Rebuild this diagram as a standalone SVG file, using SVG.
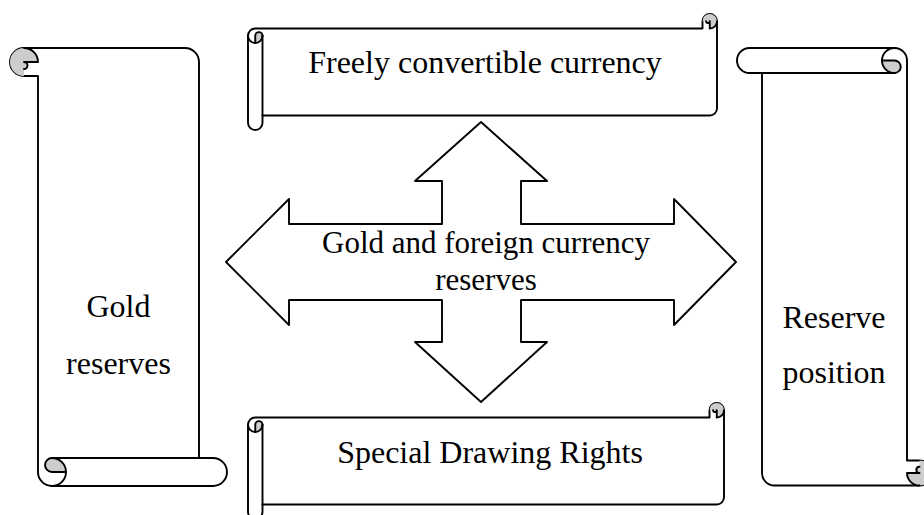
<svg xmlns="http://www.w3.org/2000/svg" width="924" height="515" viewBox="0 0 924 515">
  <style>
    .outline { fill: #ffffff; stroke: #000000; stroke-width: 1.9; stroke-linejoin: round; }
    .line { fill: none; stroke: #000000; stroke-width: 1.9; stroke-linejoin: round; stroke-linecap: round; }
    .curl { fill: #cdcdcd; stroke: none; }
    .label { font-family: "Liberation Serif", "Times New Roman", serif; font-size: 32px; fill: #000000; text-anchor: middle; }
  </style>
  <rect width="924" height="515" fill="#ffffff"/>

  <!-- Left vertical scroll (rotated half a turn) -->
  <g id="node-gold-reserves">
    <g transform="translate(227 486) rotate(180)">
      <path class="outline" d="M14,0 L175,0 A14,14 0 0 1 189,14 L189,410 L203,410 A14,14 0 0 1 217,424 A14,14 0 0 1 203,438 L42,438 A14,14 0 0 1 28,424 L28,28 L14,28 A14,14 0 0 1 14,0 Z"/>
      <path class="curl" d="M161,14 A14,14 0 0 0 175,28 A7,7 0 0 0 175,14 Z"/>
      <path class="curl" d="M189,424 A14,14 0 1 0 203,410 L203,424 Z"/>
      <path class="curl" d="M203,424 A3.5,3.5 0 0 1 203,417 Z"/>
      <path class="line" d="M28,28 L175,28"/>
      <path class="line" d="M175,0 A14,14 0 0 0 161,14 A14,14 0 0 0 175,28"/>
      <path class="line" d="M161,14 L175,14 A7,7 0 0 1 175,28"/>
      <path class="line" d="M203,438 A14,14 0 0 1 189,424 L203,424 A3.5,3.5 0 0 1 203,417"/>
    </g>
    <text class="label" x="118.5" y="317">Gold</text>
    <text class="label" x="118.5" y="374">reserves</text>
  </g>

  <!-- Right vertical scroll -->
  <g id="node-reserve-position">
    <g transform="translate(737 48)">
      <path class="outline" d="M12.5,0 L157.5,0 A12.5,12.5 0 0 1 170,12.5 L170,412.5 L182.5,412.5 A12.5,12.5 0 0 1 195,425 A12.5,12.5 0 0 1 182.5,437.5 L37.5,437.5 A12.5,12.5 0 0 1 25,425 L25,25 L12.5,25 A12.5,12.5 0 0 1 12.5,0 Z"/>
      <path class="curl" d="M145,12.5 A12.5,12.5 0 0 0 157.5,25 A6.25,6.25 0 0 0 157.5,12.5 Z"/>
      <path class="curl" d="M170,425 A12.5,12.5 0 1 0 182.5,412.5 L182.5,425 Z"/>
      <path class="curl" d="M182.5,425 A3.125,3.125 0 0 1 182.5,418.75 Z"/>
      <path class="line" d="M25,25 L157.5,25"/>
      <path class="line" d="M157.5,0 A12.5,12.5 0 0 0 145,12.5 A12.5,12.5 0 0 0 157.5,25"/>
      <path class="line" d="M145,12.5 L157.5,12.5 A6.25,6.25 0 0 1 157.5,25"/>
      <path class="line" d="M182.5,437.5 A12.5,12.5 0 0 1 170,425 L182.5,425 A3.125,3.125 0 0 1 182.5,418.75"/>
    </g>
    <text class="label" x="834" y="328">Reserve</text>
    <text class="label" x="834" y="383">position</text>
  </g>

  <!-- Top horizontal scroll -->
  <g id="node-freely-convertible">
    <g transform="translate(248 130) rotate(-90)">
      <path class="outline" d="M7.25,0 L94.25,0 A7.25,7.25 0 0 1 101.5,7.25 L101.5,454.5 L108.75,454.5 A7.25,7.25 0 0 1 116,461.75 A7.25,7.25 0 0 1 108.75,469 L21.75,469 A7.25,7.25 0 0 1 14.5,461.75 L14.5,14.5 L7.25,14.5 A7.25,7.25 0 0 1 7.25,0 Z"/>
      <path class="curl" d="M87,7.25 A7.25,7.25 0 0 0 94.25,14.5 A3.625,3.625 0 0 0 94.25,7.25 Z"/>
      <path class="curl" d="M101.5,461.75 A7.25,7.25 0 1 0 108.75,454.5 L108.75,461.75 Z"/>
      <path class="curl" d="M108.75,461.75 A1.8125,1.8125 0 0 1 108.75,458.125 Z"/>
      <path class="line" d="M14.5,14.5 L94.25,14.5"/>
      <path class="line" d="M94.25,0 A7.25,7.25 0 0 0 87,7.25 A7.25,7.25 0 0 0 94.25,14.5"/>
      <path class="line" d="M87,7.25 L94.25,7.25 A3.625,3.625 0 0 1 94.25,14.5"/>
      <path class="line" d="M108.75,469 A7.25,7.25 0 0 1 101.5,461.75 L108.75,461.75 A1.8125,1.8125 0 0 1 108.75,458.125"/>
    </g>
    <text class="label" x="485" y="73">Freely convertible currency</text>
  </g>

  <!-- Bottom horizontal scroll -->
  <g id="node-special-drawing-rights">
    <g transform="translate(248 519) rotate(-90)">
      <path class="outline" d="M7.25,0 L94.25,0 A7.25,7.25 0 0 1 101.5,7.25 L101.5,461.5 L108.75,461.5 A7.25,7.25 0 0 1 116,468.75 A7.25,7.25 0 0 1 108.75,476 L21.75,476 A7.25,7.25 0 0 1 14.5,468.75 L14.5,14.5 L7.25,14.5 A7.25,7.25 0 0 1 7.25,0 Z"/>
      <path class="curl" d="M87,7.25 A7.25,7.25 0 0 0 94.25,14.5 A3.625,3.625 0 0 0 94.25,7.25 Z"/>
      <path class="curl" d="M101.5,468.75 A7.25,7.25 0 1 0 108.75,461.5 L108.75,468.75 Z"/>
      <path class="curl" d="M108.75,468.75 A1.8125,1.8125 0 0 1 108.75,465.125 Z"/>
      <path class="line" d="M14.5,14.5 L94.25,14.5"/>
      <path class="line" d="M94.25,0 A7.25,7.25 0 0 0 87,7.25 A7.25,7.25 0 0 0 94.25,14.5"/>
      <path class="line" d="M87,7.25 L94.25,7.25 A3.625,3.625 0 0 1 94.25,14.5"/>
      <path class="line" d="M108.75,476 A7.25,7.25 0 0 1 101.5,468.75 L108.75,468.75 A1.8125,1.8125 0 0 1 108.75,465.125"/>
    </g>
    <text class="label" x="490" y="463">Special Drawing Rights</text>
  </g>

  <!-- Central four-way arrow -->
  <g id="node-gold-foreign-currency">
    <polygon class="outline" points="481,122 547,181 521,181 521,224 674,224 674,199 736,262 674,325 674,300 521,300 521,342 547,342 481,402 415,342 442,342 442,300 289,300 289,325 226,262 289,199 289,224 442,224 442,181 415,181"/>
    <text class="label" x="486" y="253" style="font-size:31px">Gold and foreign currency</text>
    <text class="label" x="486" y="290" style="font-size:31px">reserves</text>
  </g>
</svg>
